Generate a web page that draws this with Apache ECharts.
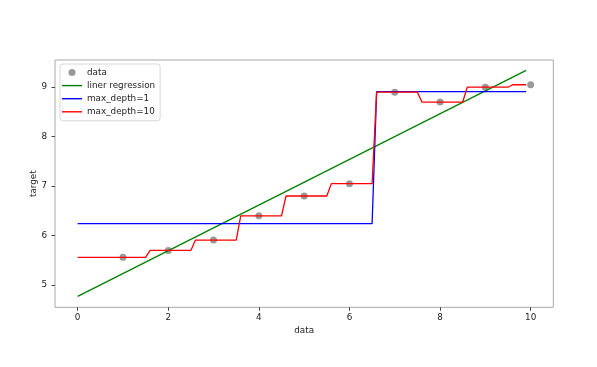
<!DOCTYPE html>
<html>
<head>
<meta charset="utf-8">
<script src="https://cdn.jsdelivr.net/npm/echarts@6/dist/echarts.min.js"></script>
<style>
html,body{margin:0;padding:0;background:#fff;}
#c{width:597px;height:367px;}
</style>
</head>
<body>
<div id="c"></div>
<script>
// ---- data ----
var dataPoints = [[1,5.56],[2,5.70],[3,5.91],[4,6.40],[5,6.80],[6,7.05],[7,8.90],[8,8.70],[9,9.00],[10,9.05]];
var regression = [[0,4.77],[9.9,9.34]];
var depth1 = [[0,6.24],[6.5,6.24],[6.6,8.91],[9.9,8.91]];
var depth10 = [[0,5.56],[1.5,5.56],[1.6,5.70],[2.5,5.70],[2.6,5.91],[3.5,5.91],[3.6,6.40],[4.5,6.40],[4.6,6.80],[5.5,6.80],[5.6,7.05],[6.5,7.05],[6.6,8.90],[7.5,8.90],[7.6,8.70],[8.5,8.70],[8.6,9.00],[9.5,9.00],[9.6,9.05],[9.9,9.05]];
var xTicks = [0,2,4,6,8,10];
var yTicks = [5,6,7,8,9];
var seriesNames = ['data','liner regression','max_depth=1','max_depth=10'];

var FONT = 'DejaVu Sans';
var FS = 8.8;
var LINE_ICON = 'path://M0,0h20v1.4h-20z';
var chart = echarts.init(document.getElementById('c'), null, {renderer:'canvas'});
function lineSeries(name, data, color){
  return {name:name, type:'line', data:data, showSymbol:false, symbol:'none', animation:false,
    lineStyle:{color:color, width:1.3}, itemStyle:{color:color}, z:3};
}
chart.setOption({
  animation:false,
  backgroundColor:'#ffffff',
  grid:{left:55, top:60, right:43.7, bottom:59.7, show:true, borderColor:'#a8a8a8', borderWidth:1, backgroundColor:'transparent', containLabel:false},
  legend:{
    data:seriesNames.map(function(n,i){ return {name:n, icon: i===0 ? 'circle' : LINE_ICON}; }),
    orient:'vertical', left:60, top:64, padding:[3,5,3.5,2],
    itemWidth:20, itemHeight:7, itemGap:2.1, symbolKeepAspect:true,
    backgroundColor:'#fff', borderColor:'#d8d8d8', borderWidth:1, borderRadius:3,
    textStyle:{fontFamily:FONT, fontSize:FS, color:'#222', lineHeight:11}
  },
  xAxis:{
    type:'value', min:-0.5, max:10.5,
    name:'data', nameLocation:'middle', nameGap:18.5, nameMoveOverlap:false,
    nameTextStyle:{fontFamily:FONT, fontSize:FS, color:'#222'},
    axisLine:{show:false, onZero:false},
    axisTick:{show:true, length:3.5, customValues:xTicks, lineStyle:{color:'#444', width:1}},
    axisLabel:{customValues:xTicks, fontFamily:FONT, fontSize:FS, color:'#222', margin:6},
    splitLine:{show:false}
  },
  yAxis:{
    type:'value', min:4.55, max:9.55,
    name:'target', nameLocation:'middle', nameGap:17, nameRotate:90, nameMoveOverlap:false,
    nameTextStyle:{fontFamily:FONT, fontSize:FS, color:'#222'},
    axisLine:{show:false, onZero:false},
    axisTick:{show:true, length:3.5, customValues:yTicks, lineStyle:{color:'#444', width:1}},
    axisLabel:{customValues:yTicks, fontFamily:FONT, fontSize:FS, color:'#222', margin:8},
    splitLine:{show:false}
  },
  series:[
    {name:seriesNames[0], type:'scatter', data:dataPoints, symbol:'circle', symbolSize:7, itemStyle:{color:'#808080'}, z:2},
    lineSeries(seriesNames[1], regression, '#008000'),
    lineSeries(seriesNames[2], depth1, '#0000ff'),
    lineSeries(seriesNames[3], depth10, '#ff0000')
  ]
});
</script>
</body>
</html>
